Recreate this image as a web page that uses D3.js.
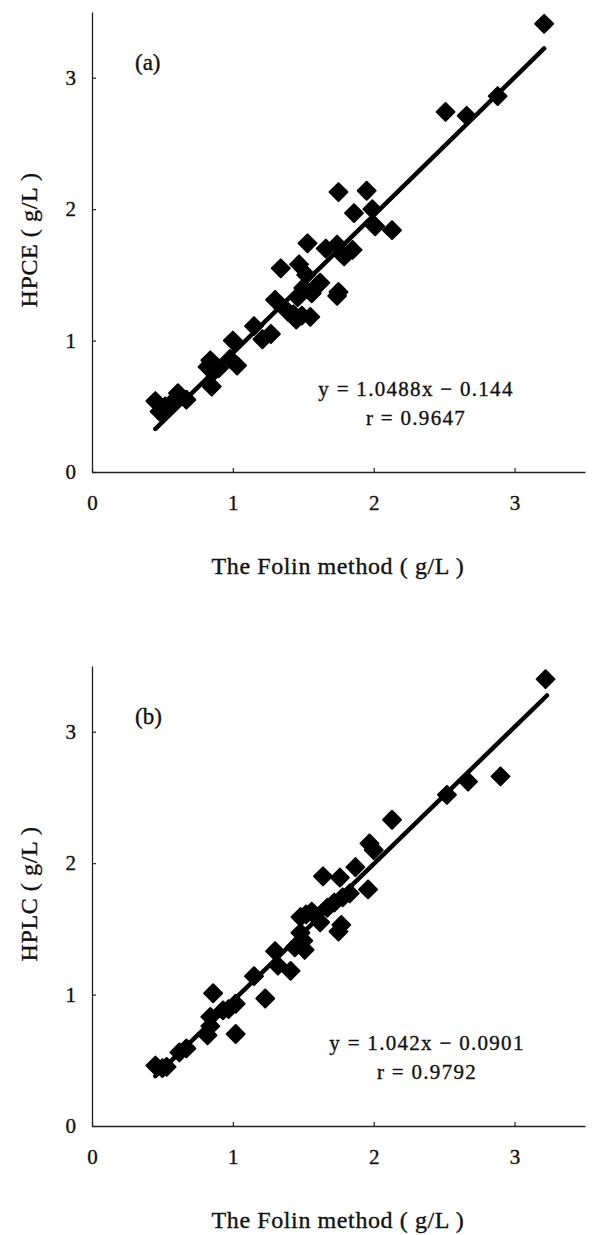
<!DOCTYPE html>
<html>
<head>
<meta charset="utf-8">
<script src="https://cdn.jsdelivr.net/npm/d3@7"></script>
<style>
  body { margin: 0; background: #fff; }
  svg text { font-family: "Liberation Serif", "Times New Roman", Times, serif; fill: #111; stroke: #111; stroke-width: 0.35px; }
</style>
</head>
<body>
<div id="chart"></div>
<script>
// panel (a): Folin method vs HPCE (g/L)
var folinA = [0.45, 0.48, 0.52, 0.56, 0.61, 0.67,
  0.82, 0.84, 0.86, 0.85, 0.90, 0.98, 1.03, 1.00,
  1.15, 1.21, 1.27, 1.30, 1.34, 1.39, 1.43,
  1.45, 1.47, 1.46, 1.50, 1.49, 1.52, 1.55, 1.53, 1.56, 1.60, 1.62,
  1.66, 1.74, 1.75, 1.74, 1.79, 1.85, 1.86, 1.75, 1.95, 1.99, 2.01, 2.13,
  2.51, 2.66, 2.88, 3.21];
var hpce = [0.54, 0.46, 0.50, 0.52, 0.60, 0.55,
  0.80, 0.85, 0.76, 0.65, 0.79, 0.86, 0.81, 1.00,
  1.11, 1.01, 1.05, 1.31, 1.55, 1.22, 1.20,
  1.16, 1.58, 1.33, 1.40, 1.19, 1.50, 1.18, 1.74, 1.36, 1.42, 1.44,
  1.70, 1.73, 1.37, 1.34, 1.64, 1.69, 1.97, 2.13, 2.14, 2.00, 1.87, 1.84,
  2.74, 2.71, 2.86, 3.41];

// panel (b): Folin method vs HPLC (g/L)
var folinB = [0.45, 0.50, 0.53, 0.62, 0.67,
  0.82, 0.84, 0.84, 0.86, 0.93, 0.97, 1.02, 1.02,
  1.15, 1.23, 1.30, 1.32, 1.41, 1.44, 1.48, 1.48, 1.50, 1.51, 1.52, 1.56, 1.62,
  1.64, 1.67, 1.72, 1.75, 1.77, 1.76, 1.78, 1.83, 1.87, 1.96, 1.97, 2.00, 2.13,
  2.52, 2.67, 2.90, 3.22];
var hplc = [0.46, 0.44, 0.45, 0.56, 0.59,
  0.69, 0.76, 0.83, 1.01, 0.88, 0.89, 0.93, 0.70,
  1.14, 0.97, 1.33, 1.22, 1.18, 1.36, 1.47, 1.59, 1.41, 1.34, 1.61, 1.63, 1.55,
  1.90, 1.66, 1.70, 1.48, 1.53, 1.89, 1.74, 1.77, 1.97, 1.80, 2.15, 2.10, 2.33,
  2.52, 2.62, 2.66, 3.40];

// regression lines: [slope, intercept], drawn over [xStart, xEnd]
var fitA = [1.0488, -0.144], fitRangeA = [0.45, 3.21];
var fitB = [1.042, -0.0901], fitRangeB = [0.45, 3.23];

var tickValues = [0, 1, 2, 3];
var equationA = ["y = 1.0488x \u2212 0.144", "r = 0.9647"];
var equationB = ["y = 1.042x \u2212 0.0901", "r = 0.9792"];

var width = 592, height = 1235;
var serif = '"Liberation Serif", "Times New Roman", Times, serif';

var svg = d3.select("#chart")
  .append("svg")
    .attr("width", width)
    .attr("height", height);

var x = d3.scaleLinear().domain([0, 3.5]).range([92, 585]);

function drawPanel(top, xs, ys, fit, fitRange, tag, yTitle, eq, eqX) {
  var bottom = top + 460;
  var y = d3.scaleLinear().domain([0, 3.5]).range([bottom, top]);
  var g = svg.append("g");

  // axes, ticks pointing inwards
  var xAxis = g.append("g")
    .attr("transform", "translate(0," + bottom + ")")
    .call(d3.axisBottom(x).tickValues(tickValues).tickFormat(d3.format("d"))
      .tickSize(-4).tickSizeOuter(0).tickPadding(23));
  var yAxis = g.append("g")
    .attr("transform", "translate(" + x(0) + ",0)")
    .call(d3.axisLeft(y).tickValues(tickValues).tickFormat(d3.format("d"))
      .tickSize(-4).tickSizeOuter(0).tickPadding(16));

  [xAxis, yAxis].forEach(function(a) {
    a.attr("font-family", serif).attr("font-size", 21);
    a.select(".domain").attr("stroke", "#222").attr("stroke-width", 1.3);
    a.selectAll(".tick line").attr("stroke", "#222").attr("stroke-width", 1.2);
    a.selectAll(".tick text").attr("fill", "#111").attr("stroke-width", 0.5);
  });

  // axis titles
  g.append("text")
    .attr("x", 338)
    .attr("y", bottom + 102)
    .attr("text-anchor", "middle")
    .style("font-size", "24px")
    .style("letter-spacing", "0.6px")
    .text("The Folin method ( g/L )");

  g.append("text")
    .attr("transform", "translate(37," + (bottom - 232) + ") rotate(-90)")
    .attr("text-anchor", "middle")
    .style("font-size", "24px")
    .style("letter-spacing", "0.6px")
    .text(yTitle);

  // panel tag
  g.append("text")
    .attr("x", 135)
    .attr("y", top + 58)
    .style("font-size", "23px")
    .text(tag);

  // regression line
  g.append("line")
    .attr("x1", x(fitRange[0]))
    .attr("y1", y(fit[0] * fitRange[0] + fit[1]))
    .attr("x2", x(fitRange[1]))
    .attr("y2", y(fit[0] * fitRange[1] + fit[1]))
    .attr("stroke", "#000")
    .attr("stroke-width", 4.5)
    .attr("stroke-linecap", "round");

  // points, diamonds with slightly rounded corners
  var diamond = d3.symbol().type(d3.symbolSquare).size(160);
  g.selectAll("path.pt")
    .data(xs.map(function(v, i) { return [v, ys[i]]; }))
    .enter()
    .append("path")
      .attr("class", "pt")
      .attr("d", diamond)
      .attr("transform", function(d) { return "translate(" + x(d[0]) + "," + y(d[1]) + ") rotate(45)"; })
      .attr("fill", "#000")
      .attr("stroke", "#000")
      .attr("stroke-width", 2)
      .attr("stroke-linejoin", "round");

  // equation
  g.selectAll("text.eq")
    .data(eq)
    .enter()
    .append("text")
      .attr("class", "eq")
      .attr("x", eqX)
      .attr("y", function(d, i) { return top + 384 + i * 29; })
      .attr("text-anchor", "middle")
      .style("font-size", "21px")
      .style("letter-spacing", "1.3px")
      .text(function(d) { return d; });
}

drawPanel(12, folinA, hpce, fitA, fitRangeA, "(a)", "HPCE ( g/L )", equationA, 416);
drawPanel(666, folinB, hplc, fitB, fitRangeB, "(b)", "HPLC ( g/L )", equationB, 427);
</script>
</body>
</html>
